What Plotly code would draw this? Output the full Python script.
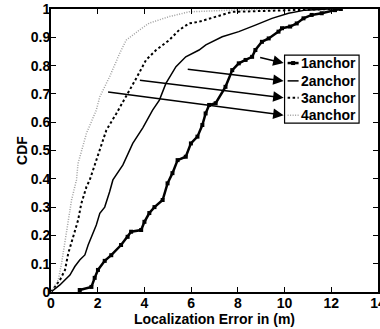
import plotly.graph_objects as go

# ---- data ----
err1 = [1.23, 1.73, 1.87, 2.01, 2.3, 2.58, 3.0, 3.28, 3.43, 3.86, 4.0, 4.21, 4.43, 4.78, 4.99,
        5.2, 5.42, 5.77, 5.99, 6.27, 6.48, 6.62, 6.77, 7.05, 7.47, 7.76, 8.04, 8.33, 8.61, 8.75,
        9.03, 9.32, 9.74, 9.89, 10.24, 10.52, 10.81, 11.16, 11.59, 12.16, 12.41]
cdf1 = [0.007, 0.018, 0.05, 0.078, 0.11, 0.13, 0.166, 0.195, 0.213, 0.219, 0.248, 0.279, 0.30,
        0.325, 0.384, 0.42, 0.466, 0.478, 0.525, 0.549, 0.59, 0.631, 0.661, 0.667, 0.725, 0.784,
        0.808, 0.82, 0.831, 0.855, 0.884, 0.896, 0.92, 0.932, 0.938, 0.949, 0.967, 0.979, 0.985,
        0.996, 1.0]

err2 = [0, 0.38, 0.81, 1.02, 1.23, 1.45, 1.59, 1.73, 1.94, 2.09, 2.3, 2.51, 2.65, 3.08, 3.5,
        3.93, 4.35, 4.64, 4.92, 5.35, 5.77, 6.34, 6.63, 7.33, 8.04, 8.75, 9.46, 10.17, 10.88,
        11.87, 12.4]
cdf2 = [0, 0.025, 0.06, 0.09, 0.113, 0.131, 0.166, 0.195, 0.237, 0.278, 0.30, 0.354, 0.396,
        0.449, 0.525, 0.58, 0.643, 0.678, 0.737, 0.796, 0.831, 0.855, 0.873, 0.902, 0.92, 0.943,
        0.967, 0.985, 0.996, 1.0, 1.0]

err3 = [0, 0.38, 0.6, 0.74, 0.95, 1.16, 1.3, 1.52, 1.66, 1.94, 2.37, 2.8, 3.22, 3.65, 4.07,
        4.5, 5.06, 5.49, 5.91, 6.34, 7.76, 9.89, 12.0]
cdf3 = [0, 0.042, 0.078, 0.137, 0.195, 0.254, 0.313, 0.372, 0.396, 0.466, 0.572, 0.631, 0.69,
        0.755, 0.82, 0.855, 0.89, 0.926, 0.949, 0.955, 0.99, 0.996, 1.0]

err4 = [0, 0.31, 0.45, 0.6, 0.74, 0.88, 1.09, 1.16, 1.52, 1.94, 2.09, 2.51, 2.94, 3.22, 3.79,
        4.2, 5.06, 5.91, 7.76, 9.5]
cdf4 = [0, 0.042, 0.1, 0.184, 0.254, 0.325, 0.396, 0.455, 0.561, 0.643, 0.69, 0.761, 0.843,
        0.89, 0.926, 0.95, 0.973, 0.99, 0.996, 1.0]

series_names = ["1anchor", "2anchor", "3anchor", "4anchor"]

# arrows: tail points on curves, heads at legend entries
arrow_tail_x = [8.89, 5.79, 3.74, 2.38]
arrow_tail_y = [0.830, 0.788, 0.749, 0.707]
arrow_head_y = [0.809, 0.746, 0.686, 0.625]
arrow_head_x = 9.96

x_ticks = [0, 2, 4, 6, 8, 10, 12, 14]
y_ticks = [0, 0.1, 0.2, 0.3, 0.4, 0.5, 0.6, 0.7, 0.8, 0.9, 1]
y_tick_text = ["0", "0.1", "0.2", "0.3", "0.4", "0.5", "0.6", "0.7", "0.8", "0.9", "1"]

FONT = "Liberation Sans, Arial, sans-serif"

styles = [
    dict(mode="lines+markers", line=dict(color="black", width=2.5),
         marker=dict(symbol="square", size=4, color="black")),
    dict(mode="lines", line=dict(color="black", width=1.5)),
    dict(mode="lines", line=dict(color="black", width=2, dash="2.5px,2.5px")),
    dict(mode="lines", line=dict(color="#a0a0a0", width=1.5, dash="1px,1.5px")),
]

fig = go.Figure()
for xs, ys, name, st in zip([err1, err2, err3, err4], [cdf1, cdf2, cdf3, cdf4], series_names, styles):
    fig.add_trace(go.Scatter(x=xs, y=ys, name=name, showlegend=False, **st))

# custom legend (box, samples, labels)
leg_x0, leg_x1 = 10.0, 13.19
leg_y0, leg_y1 = 0.597, 0.837
samp_x0, samp_x1 = 10.13, 10.6
fig.add_shape(type="rect", xref="x", yref="y", x0=leg_x0, x1=leg_x1, y0=leg_y0, y1=leg_y1,
              line=dict(color="black", width=1.2), fillcolor="white", layer="below")
annotations = []
for i, (name, st) in enumerate(zip(series_names, styles)):
    yy = arrow_head_y[i]
    fig.add_trace(go.Scatter(x=[samp_x0, samp_x1], y=[yy, yy], mode="lines",
                             line=st["line"], showlegend=False, hoverinfo="skip"))
    if i == 0:
        fig.add_trace(go.Scatter(x=[(samp_x0 + samp_x1) / 2], y=[yy], mode="markers",
                                 marker=dict(symbol="square", size=4, color="black"),
                                 showlegend=False, hoverinfo="skip"))
    annotations.append(dict(x=samp_x1 + 0.02, y=yy, xref="x", yref="y", text="<b>%s</b>" % name,
                            showarrow=False, xanchor="left", yanchor="middle",
                            font=dict(family=FONT, size=14, color="black")))
    annotations.append(dict(x=arrow_head_x, y=arrow_head_y[i], ax=arrow_tail_x[i], ay=arrow_tail_y[i],
                            xref="x", yref="y", axref="x", ayref="y", text="", showarrow=True,
                            arrowhead=2, arrowsize=1.4, arrowwidth=1.5, arrowcolor="black"))

fig.update_layout(
    width=380, height=329, autosize=False,
    margin=dict(l=51, r=2, t=9, b=37, autoexpand=False),
    paper_bgcolor="white", plot_bgcolor="white",
    font=dict(family=FONT, size=14, color="black"),
    annotations=annotations,
    showlegend=False,
)
fig.update_xaxes(range=[0, 14], tickvals=x_ticks, ticktext=["<b>%d</b>" % v for v in x_ticks],
                 ticks="inside", ticklen=5, tickwidth=1, tickcolor="black",
                 showline=True, linecolor="black", linewidth=2, mirror="ticks",
                 showgrid=False, zeroline=False, ticklabeloverflow="allow", automargin=False,
                 ticklabelstandoff=-3,
                 title=dict(text="<b>Localization Error in (m)</b>", standoff=0,
                            font=dict(family=FONT, size=14)),
                 tickfont=dict(family=FONT, size=14))
fig.update_yaxes(range=[0, 1], tickvals=y_ticks, ticktext=["<b>%s</b>" % t for t in y_tick_text],
                 ticks="inside", ticklen=5, tickwidth=1, tickcolor="black",
                 showline=True, linecolor="black", linewidth=2, mirror="ticks",
                 showgrid=False, zeroline=False, ticklabelstandoff=-4, automargin=False,
                 title=dict(text="<b>CDF</b>", standoff=0, font=dict(family=FONT, size=14)),
                 tickfont=dict(family=FONT, size=14))

fig.write_html("out.html")
